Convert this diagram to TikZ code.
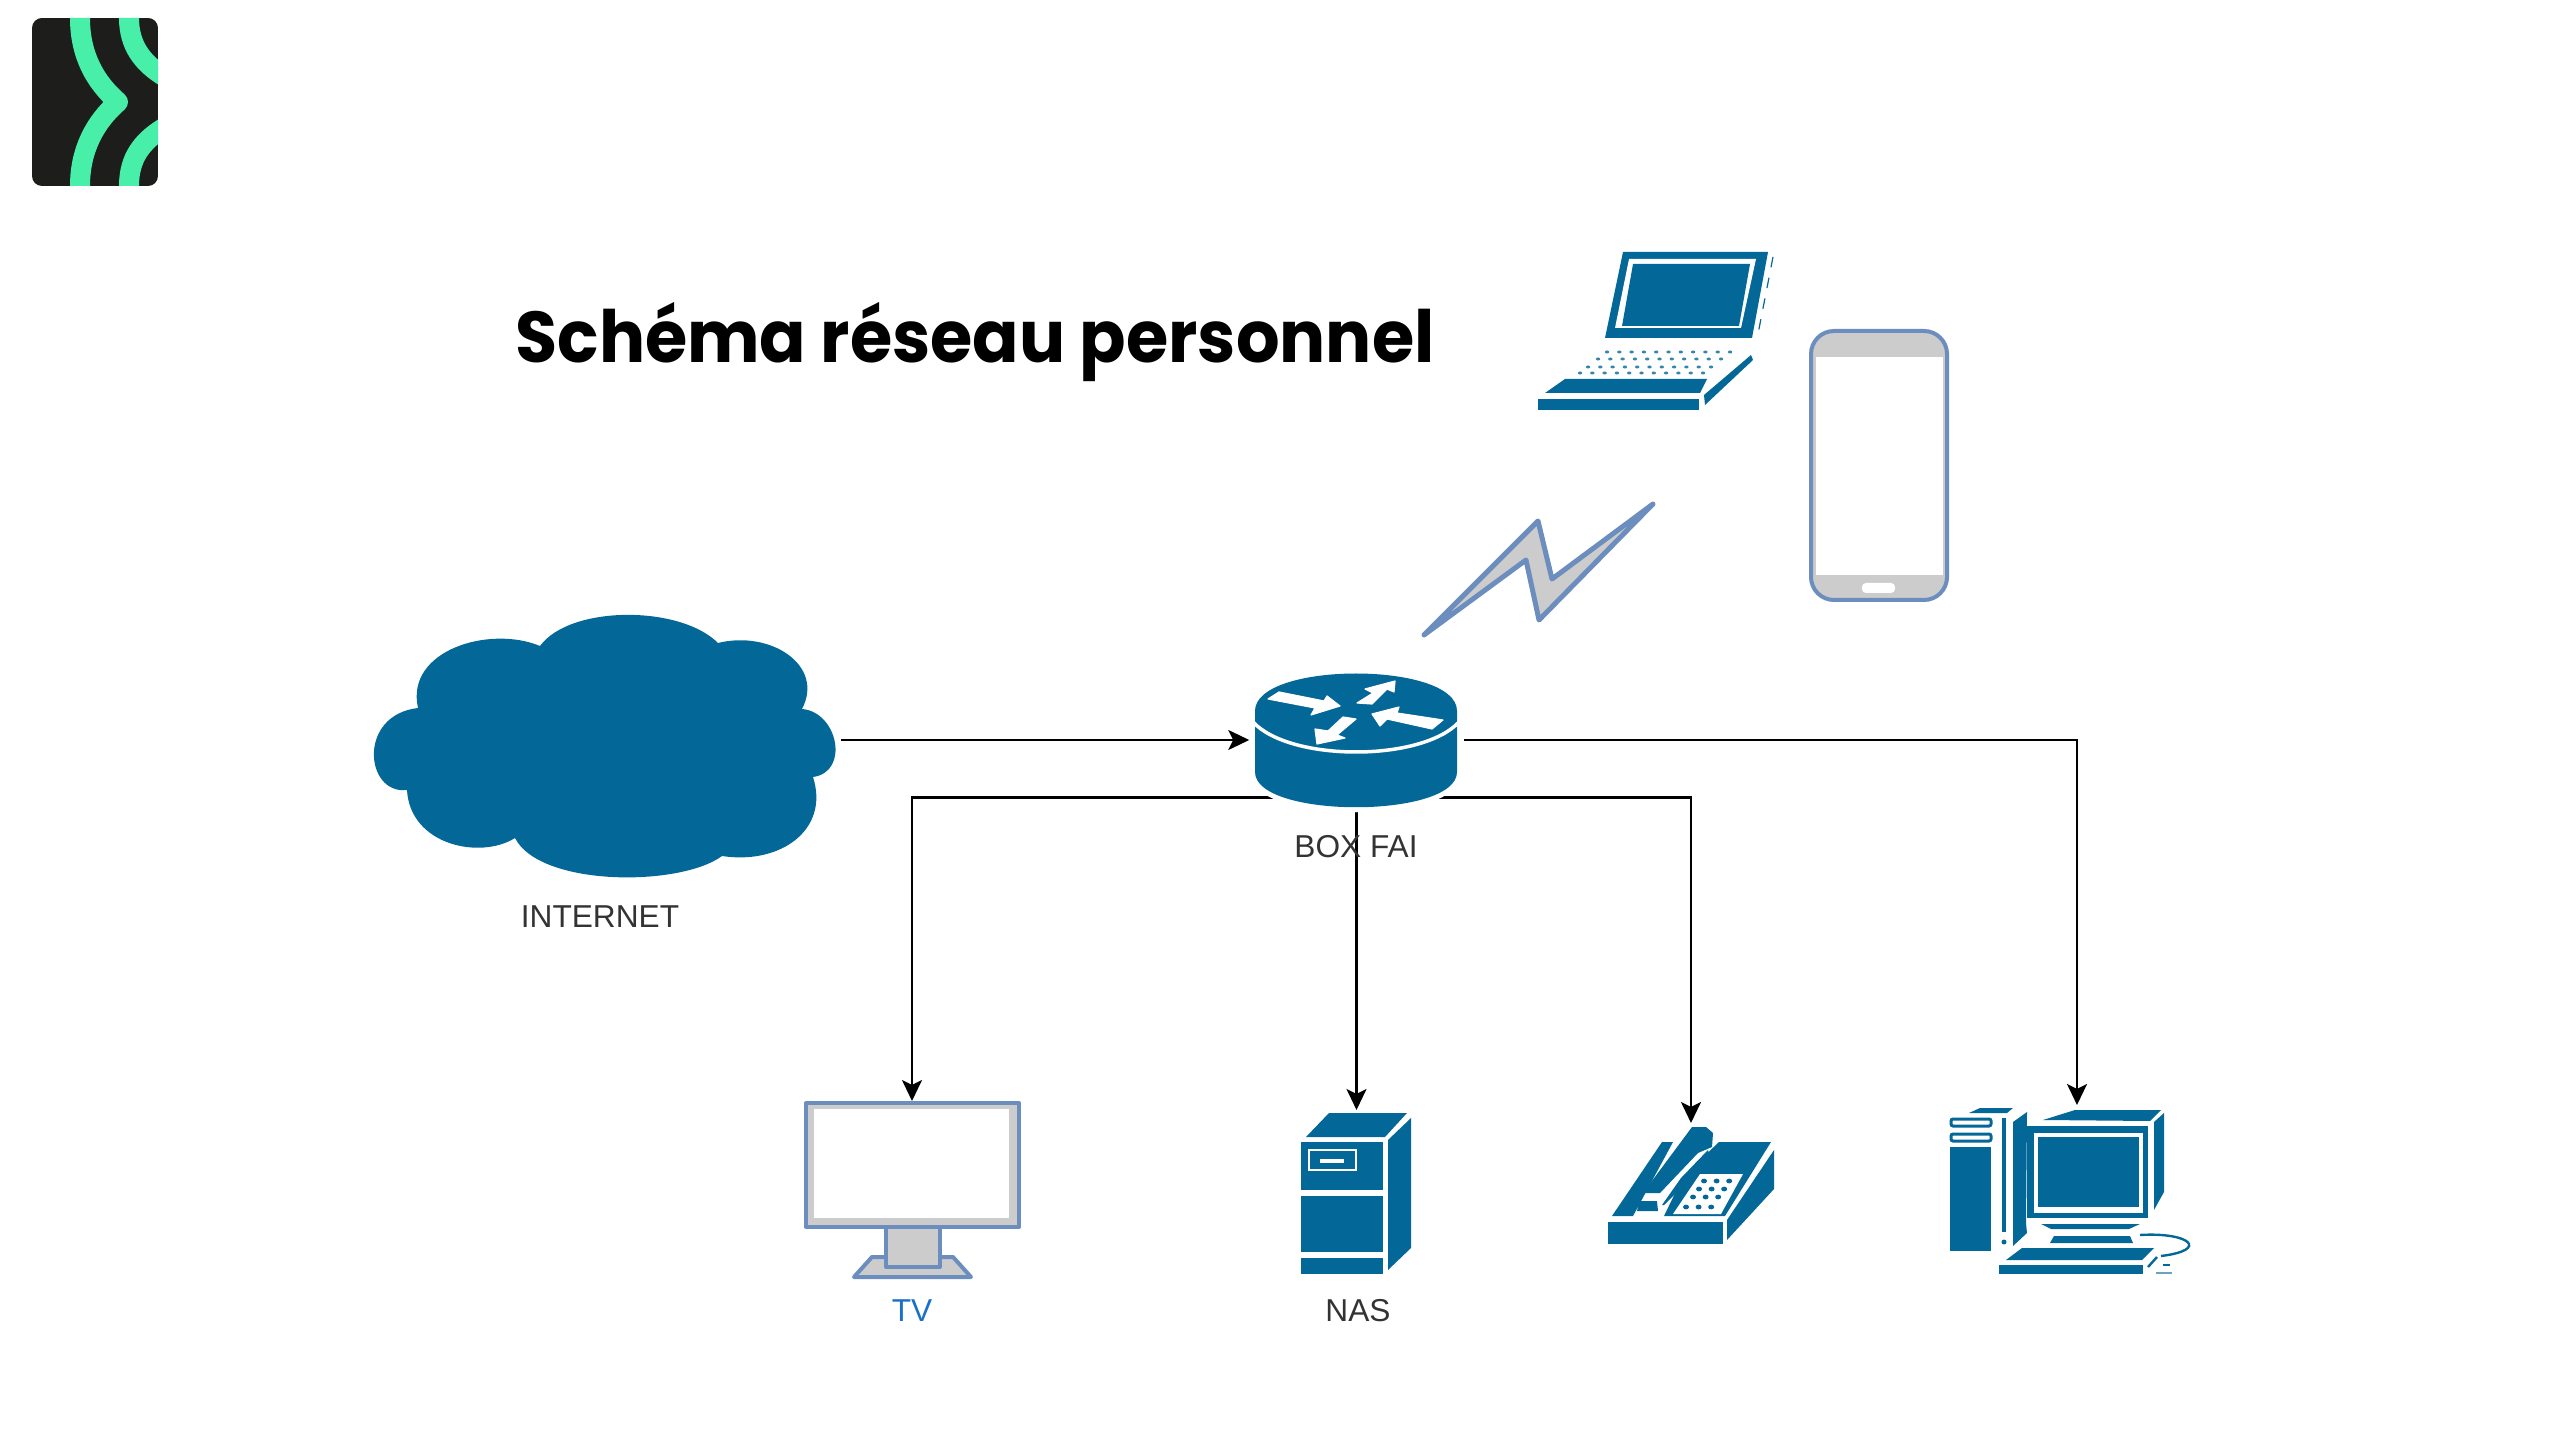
\documentclass[tikz,border=0pt]{standalone}
\usepackage{fontspec}
\setmainfont{Liberation Sans}
\newfontfamily\titlefont[FakeStretch=0.95]{Poppins}
\usetikzlibrary{arrows.meta}
\definecolor{cisco}{HTML}{036897}
\definecolor{frameblue}{HTML}{6C8EBF}
\definecolor{framegray}{HTML}{CCCCCC}
\definecolor{logodark}{HTML}{1D1D1B}
\definecolor{logogreen}{HTML}{47EFA8}
\definecolor{tvblue}{HTML}{1A6FC9}
\tikzset{
  icon/.style={inner sep=0pt,minimum width=#1},
  label/.style={font=\fontsize{9}{11}\selectfont,text=black!80},
  link/.style={line width=0.026cm,-{Stealth[length=0.21cm,width=0.2cm,inset=0.05cm]}},
  plate/.style={draw=frameblue,fill=framegray,line width=0.04cm,line join=round},
  routerarrow/.style={fill=white,draw=white,line width=0.012cm,line join=round},
}
\begin{document}
\begin{tikzpicture}[x=0.01cm,y=-0.01cm]
  \useasboundingbox (0,0) rectangle (2560,1440);
  % logo
  \begin{scope}
    \clip[rounded corners=0.1cm] (32,18) rectangle (158,186);
    \fill[logodark] (32,18) rectangle (158,186);
    \draw[logogreen,line width=0.2cm,line join=round]
      (80,10) -- (80,18) .. controls (80,55) and (95,82) .. (118,102)
      .. controls (95,122) and (80,150) .. (80,186) -- (80,195);
    \draw[logogreen,line width=0.2cm]
      (129,10) -- (129,18) .. controls (129,45) and (142,63) .. (165,77);
    \draw[logogreen,line width=0.2cm]
      (129,195) -- (129,186) .. controls (129,158) and (142,141) .. (165,127);
  \end{scope}
  \node[font=\titlefont\bfseries\fontsize{20.5}{26}\selectfont,inner sep=0pt] (title) at (975,342) {Schéma réseau personnel};

  \node[icon=4.70cm,minimum height=2.70cm] (cloud) at (605,740) {};
  \node[icon=2.13cm,minimum height=1.14cm] (boxfai) at (1356.5,740) {};
  \node[icon=2.17cm,minimum height=1.77cm,anchor=north] (tv) at (912,1101) {};
  \node[icon=1.10cm,minimum height=1.64cm,anchor=north] (nas) at (1356.5,1110) {};
  \node[icon=1.66cm,minimum height=1.21cm,anchor=north] (tel) at (1691,1123) {};
  \node[icon=2.54cm,minimum height=1.70cm,anchor=north] (pc) at (2077,1105) {};

  \begin{scope}
    \draw[link] (cloud) to (boxfai);
    \draw[link] (boxfai.south) -| (tv.north);
    \draw[link] (boxfai.south) -- (nas.north);
    \draw[link] (boxfai.south) -| (tel.north);
    \draw[link] (boxfai.east) -| (pc.north);
  \end{scope}

  % cloud
  \fill[cisco] (540,646) .. controls (570,605) and (680,605) .. (718,643)
    .. controls (770,630) and (825,665) .. (802,709)
    .. controls (838,712) and (850,772) .. (813,777)
    .. controls (830,830) and (780,865) .. (722,856)
    .. controls (680,887) and (540,887) .. (515,838)
    .. controls (480,860) and (410,845) .. (407,790)
    .. controls (365,795) and (357,715) .. (418,708)
    .. controls (405,650) and (490,625) .. (540,646) -- cycle;

  % router
  \path[draw=white,line width=0.1cm]
    (1255,711) .. controls (1255,661) and (1457,661) .. (1457,711)
    -- (1457,772) .. controls (1457,819) and (1255,819) .. (1255,772) -- cycle;
  \fill[cisco]
    (1255,711) .. controls (1255,661) and (1457,661) .. (1457,711)
    -- (1457,772) .. controls (1457,819) and (1255,819) .. (1255,772) -- cycle;
  \draw[white,line width=0.035cm] (1253,722) .. controls (1290,762) and (1422,762) .. (1459,722);
  \draw[routerarrow] (1268,699) -- (1279,692) -- (1324,701) -- (1327,696) -- (1340,706) -- (1311,715) -- (1315,708) -- cycle;
  \draw[routerarrow] (1357,703) -- (1373,693) -- (1365,689) -- (1395,681) -- (1394,692) -- (1387,689) -- (1372,704) -- cycle;
  \draw[routerarrow] (1443,720) -- (1432,729) -- (1387,719) -- (1380,726) -- (1372,714) -- (1399,707) -- (1397,713) -- cycle;
  \draw[routerarrow] (1356,719) -- (1343,717) -- (1328,731) -- (1315,729) -- (1317,744) -- (1345,738) -- (1337,735) -- cycle;

  % wireless
  \draw[plate,line width=0.05cm] (1653,504) -- (1552,579) -- (1538,521) -- (1424,635)
    -- (1526,560) -- (1539,620) -- cycle;

  % laptop
  \fill[cisco] (1623,252) -- (1768,252) -- (1752,338) -- (1605,338) -- cycle;
  \fill[white] (1629,259) -- (1756,259) -- (1741,328) -- (1615,328) -- cycle;
  \fill[cisco] (1633,264) -- (1750,264) -- (1739,326) -- (1622,326) -- cycle;
  \draw[cisco,line width=0.012cm,dashed] (1773,257) -- (1757,339);
  \foreach \ky/\kx in {352/1607,359/1598,367/1588,373/1580}
    \foreach \k in {0,...,10}
      \fill[cisco!80] (\kx+\k*12.3,\ky) ellipse (0.022cm and 0.015cm);
  \fill[cisco] (1565,379) -- (1707,379) -- (1700,393) -- (1545,393) -- cycle;
  \fill[cisco] (1538,399) rectangle (1699,410);
  \fill[cisco] (1704,395) -- (1751,355) -- (1753,360) -- (1705,405) -- cycle;

  % mobile
  \fill[framegray,rounded corners=0.23cm] (1811,331) rectangle (1947,600);
  \fill[white] (1816,357) rectangle (1943,575);
  \fill[white,rounded corners=0.04cm] (1862,583) rectangle (1895,593);
  \draw[frameblue,line width=0.04cm,rounded corners=0.23cm] (1811,331) rectangle (1947,600);

  % tv
  \draw[plate] (872,1257) -- (953,1257) -- (971,1277) -- (854,1277) -- cycle;
  \draw[plate] (886,1226) rectangle (940,1267);
  \draw[plate] (806,1103) rectangle (1019,1227);
  \fill[white] (814,1109) rectangle (1009,1218);

  % nas
  \fill[cisco] (1329,1113) -- (1407,1113) -- (1385,1137) -- (1306,1137) -- cycle;
  \fill[cisco] (1411,1118) -- (1411,1248) -- (1388,1270) -- (1388,1140) -- cycle;
  \fill[cisco] (1301,1142) rectangle (1383,1190);
  \fill[cisco] (1301,1196) rectangle (1383,1252);
  \fill[cisco] (1301,1258) rectangle (1383,1274);
  \draw[white,line width=0.02cm] (1309,1150) rectangle (1356,1170);
  \fill[white] (1320,1159) rectangle (1344,1163);

  % tel
  \fill[cisco] (1608,1222) rectangle (1723,1244);
  \fill[cisco] (1727,1240) -- (1774,1189) -- (1774,1150) -- (1727,1220) -- cycle;
  \fill[cisco] (1719,1142) -- (1771,1142) -- (1725,1216) -- (1664,1216) -- (1680,1183) -- (1698,1162) -- cycle;
  \fill[white] (1700,1174) -- (1743,1174) -- (1721,1214) -- (1673,1214) -- cycle;
  \foreach \ky/\kx in {1181/1704,1189/1699,1197/1693,1207/1686}
    \foreach \k in {0,1,2}
      \fill[cisco] (\kx+\k*12.6,\ky) ellipse (0.03cm and 0.024cm);
  \fill[cisco] (1692,1127) -- (1706,1127) -- (1713,1133) -- (1712,1147) -- (1698,1153) -- (1660,1193) -- (1643,1193) -- cycle;
  \fill[cisco] (1639,1201) -- (1657,1201) -- (1658,1211) -- (1637,1211) -- cycle;
  \fill[cisco] (1662,1142) -- (1673,1142) -- (1633,1216) -- (1612,1216) -- cycle;
  \fill[cisco] (1662,1205) -- (1681,1178) -- (1708,1150) -- (1710,1157) -- (1700,1165) -- (1681,1188) -- (1664,1205) -- cycle;

  % pc
  \fill[cisco] (1980,1108) -- (2013,1108) -- (2007,1113) -- (1969,1113) -- cycle;
  \draw[cisco,line width=0.03cm,rounded corners=0.02cm] (1951,1119) rectangle (1991,1126);
  \draw[cisco,line width=0.03cm,rounded corners=0.02cm] (1951,1134) rectangle (1991,1141);
  \fill[cisco] (1950,1147) rectangle (1991,1251);
  \fill[cisco] (2002,1118) rectangle (2006,1232);
  \fill[cisco] (2004,1242) circle (0.025cm);
  \fill[cisco] (2013,1122) -- (2027,1112) -- (2026,1223) -- (2027,1233) -- (2013,1246) -- cycle;
  \fill[cisco] (2043,1120) -- (2075,1110) -- (2161,1110) -- (2150,1121) -- cycle;
  \fill[cisco] (2154,1122) -- (2164,1113) -- (2164,1192) -- (2154,1210) -- cycle;
  \fill[cisco] (2027,1126) rectangle (2148,1218);
  \fill[white] (2034,1133) rectangle (2143,1213);
  \fill[cisco] (2038,1137) rectangle (2139,1207);
  \fill[cisco] (2041,1224) -- (2140,1224) -- (2129,1229) -- (2051,1229) -- cycle;
  \fill[cisco] (2054,1236) -- (2130,1236) -- (2133,1243) -- (2050,1243) -- cycle;
  \fill[cisco] (2022,1248) -- (2154,1248) -- (2142,1260) -- (2006,1260) -- cycle;
  \fill[cisco] (1999,1265) rectangle (2143,1274);
  \draw[cisco,line width=0.024cm] (2140,1235) .. controls (2190,1232) and (2210,1250) .. (2161,1256);
  \draw[cisco,line width=0.024cm] (2148,1267) -- (2157,1257);
  \draw[cisco,line width=0.018cm] (2163,1265) -- (2170,1265);
  \draw[cisco!60,line width=0.022cm] (2156,1273) -- (2172,1273);

  \node[label] (internetlabel) at (600,917) {INTERNET};
  \node[label] (boxlabel) at (1356,847) {BOX FAI};
  \node[label,text=tvblue] (tvlabel) at (912,1311) {TV};
  \node[label] (naslabel) at (1358,1311) {NAS};
\end{tikzpicture}
\end{document}
